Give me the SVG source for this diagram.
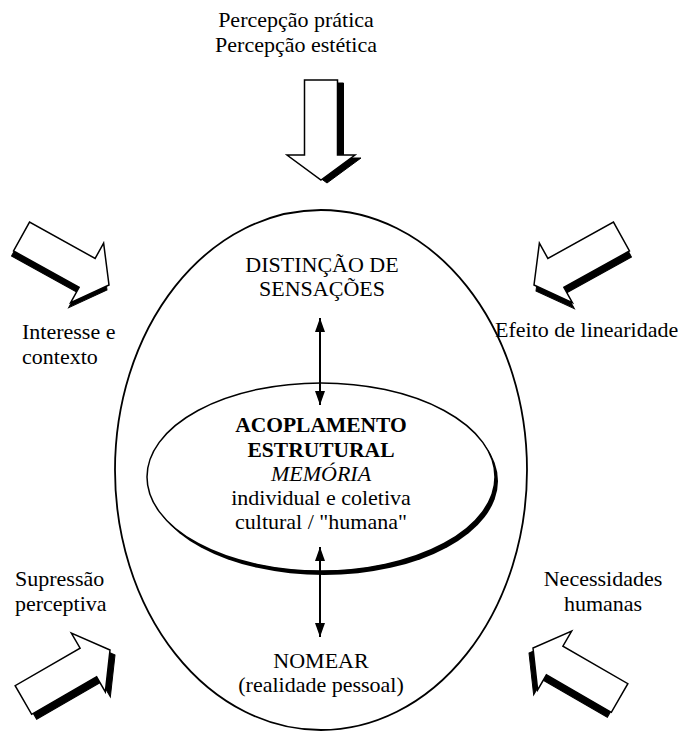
<svg xmlns="http://www.w3.org/2000/svg" width="678" height="736" viewBox="0 0 678 736">
<style>
text{font-family:"Liberation Serif","Times New Roman",serif;font-size:22px;fill:#000}
.c{text-anchor:middle}
.b{font-weight:bold;font-size:21.5px}
.i{font-style:italic}
.arr{fill:#fff;stroke:#000;stroke-width:1.5;stroke-linejoin:miter}
.sh{fill:#000;stroke:#000;stroke-width:1}
.conn{stroke:#000;stroke-width:2;fill:none}
</style>
<defs>
<path id="bigArrow" d="M0,0 L-25,-34 L-25,-16.5 L-100,-16.5 L-100,16.5 L-25,16.5 L-25,34 Z"/>
<marker id="head" viewBox="0 0 14 10" refX="14" refY="5" markerWidth="14" markerHeight="10" markerUnits="userSpaceOnUse" orient="auto-start-reverse">
<path d="M0,0 L14,5 L0,10 Z" fill="#000"/>
</marker>
</defs>
<rect width="678" height="736" fill="#fff"/>

<g id="outer-ellipse">
<ellipse cx="321" cy="470" rx="206" ry="260" fill="none" stroke="#000" stroke-width="1.8"/>
</g>

<g id="arrow-top">
<use href="#bigArrow" class="sh" transform="translate(327,183) rotate(90)"/>
<use href="#bigArrow" class="arr" transform="translate(321,180) rotate(90)"/>
</g>
<g id="arrow-top-left">
<use href="#bigArrow" class="sh" transform="translate(107,290) rotate(29)"/>
<use href="#bigArrow" class="arr" transform="translate(109,285) rotate(29)"/>
</g>
<g id="arrow-top-right">
<use href="#bigArrow" class="sh" transform="translate(536,291) rotate(151)"/>
<use href="#bigArrow" class="arr" transform="translate(534,285) rotate(151)"/>
</g>
<g id="arrow-bottom-left">
<use href="#bigArrow" class="sh" transform="translate(115,655) rotate(-30)"/>
<use href="#bigArrow" class="arr" transform="translate(110,650) rotate(-30)"/>
</g>
<g id="arrow-bottom-right">
<use href="#bigArrow" class="sh" transform="translate(529,653) rotate(210)"/>
<use href="#bigArrow" class="arr" transform="translate(533,648) rotate(210)"/>
</g>

<g id="inner-ellipse">
<ellipse cx="324" cy="481" rx="174" ry="94" fill="#000"/>
<ellipse cx="321" cy="477" rx="174" ry="94" fill="#fff" stroke="#000" stroke-width="1.5"/>
<text class="c b" x="321" y="432">ACOPLAMENTO</text>
<text class="c b" x="321" y="457">ESTRUTURAL</text>
<text class="c i" x="321" y="481">MEMÓRIA</text>
<text class="c" x="321" y="505">individual e coletiva</text>
<text class="c" x="321" y="529">cultural / "humana"</text>
</g>

<g id="label-percepcao">
<text class="c" x="296" y="27">Percepção prática</text>
<text class="c" x="296" y="52">Percepção estética</text>
</g>
<g id="node-distincao">
<text class="c" x="322" y="272">DISTINÇÃO DE</text>
<text class="c" x="322" y="296">SENSAÇÕES</text>
</g>
<g id="node-nomear">
<text class="c" x="321" y="668">NOMEAR</text>
<text class="c" x="321" y="692">(realidade pessoal)</text>
</g>
<g id="label-interesse">
<text x="22" y="339">Interesse e</text>
<text x="22" y="364">contexto</text>
</g>
<g id="label-efeito">
<text x="495" y="337">Efeito de linearidade</text>
</g>
<g id="label-supressao">
<text x="15" y="586">Supressão</text>
<text x="15" y="611">perceptiva</text>
</g>
<g id="label-necessidades">
<text class="c" x="603" y="586">Necessidades</text>
<text class="c" x="603" y="611">humanas</text>
</g>

<g id="connectors">
<line class="conn" x1="320" y1="318" x2="320" y2="405" marker-start="url(#head)" marker-end="url(#head)"/>
<line class="conn" x1="320" y1="547" x2="320" y2="637" marker-start="url(#head)" marker-end="url(#head)"/>
</g>
</svg>
